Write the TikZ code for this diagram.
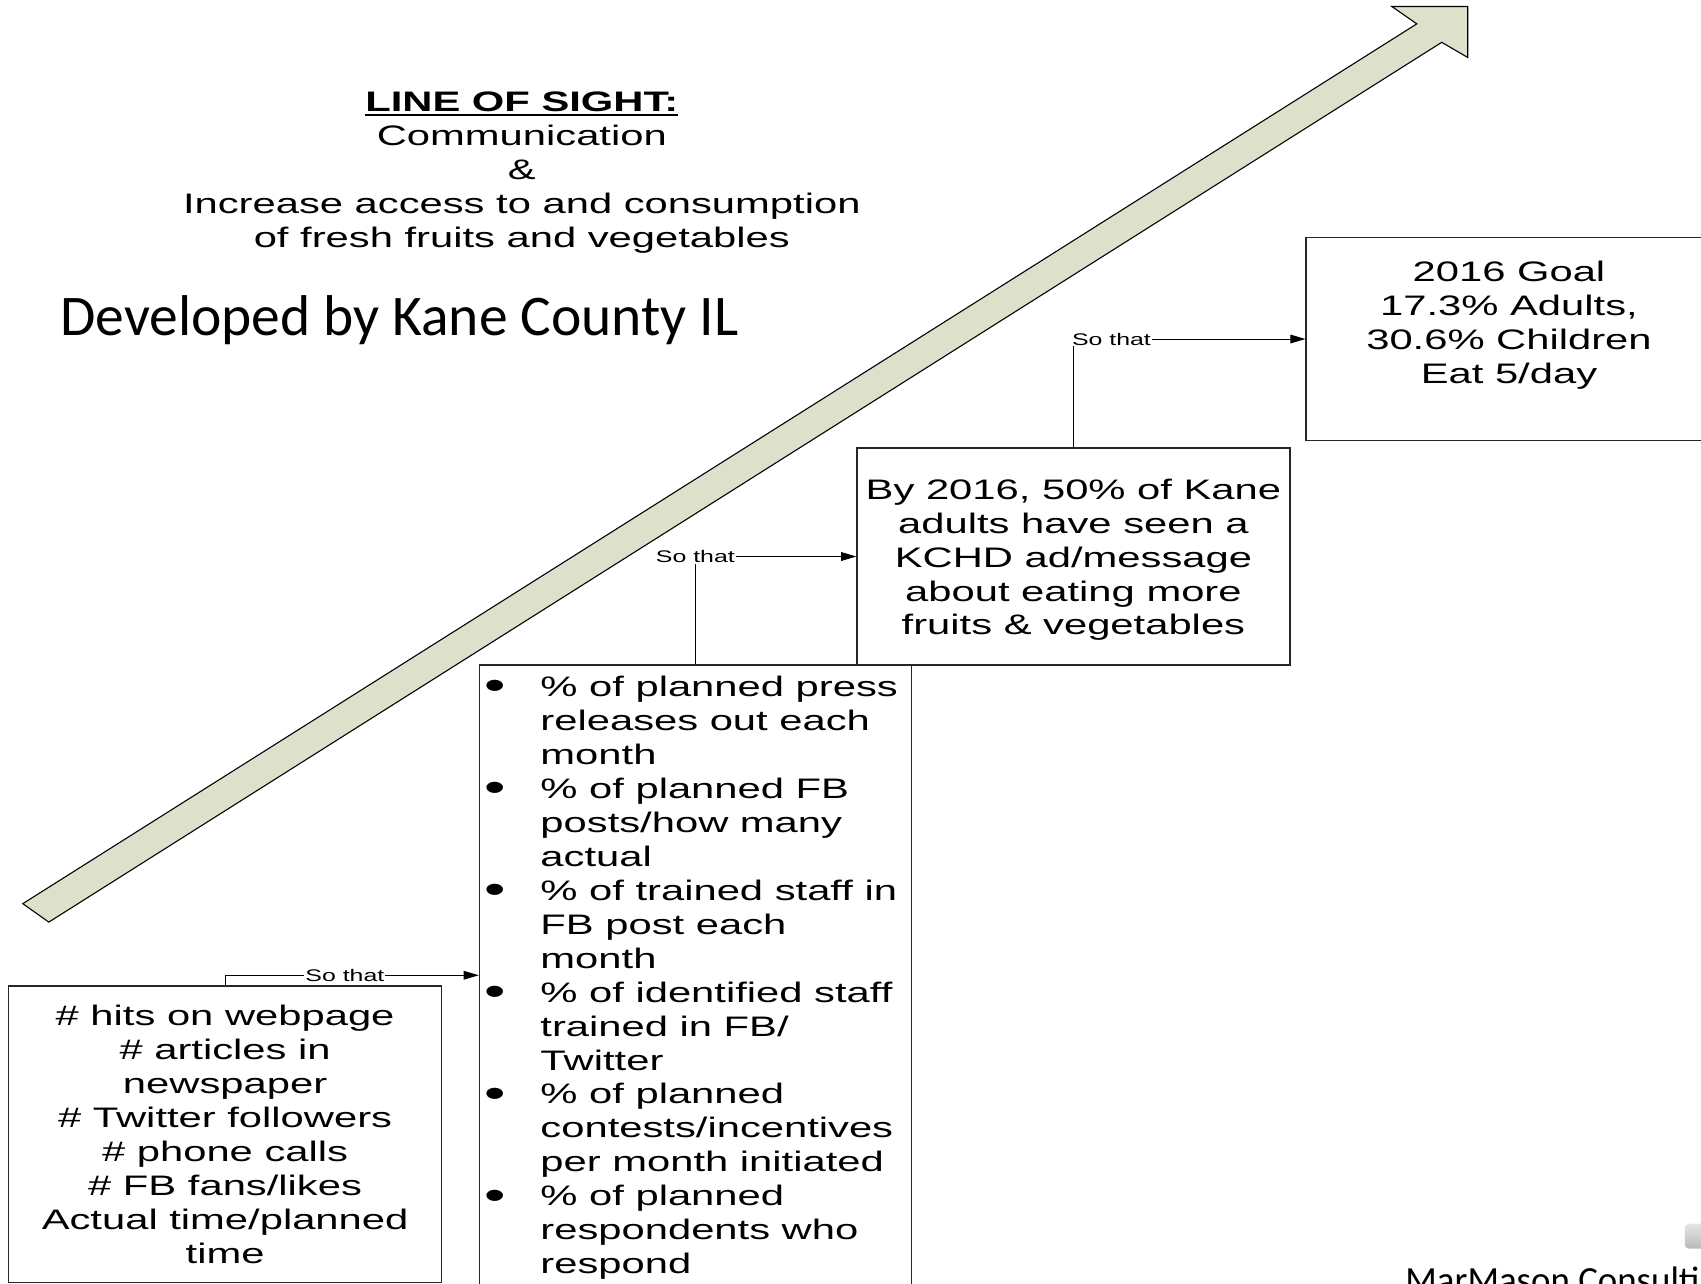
\documentclass[tikz,border=0pt]{standalone}
\usepackage{fontspec}
\usetikzlibrary{arrows.meta}

\newfontfamily\arialw[FakeStretch=1.48]{Liberation Sans}
\newfontfamily\calib{Carlito}
\definecolor{shaft}{RGB}{221,225,204}
\newcommand\ulbar[1]{\setbox0\hbox{#1}\rlap{\vrule height -2pt depth 4.5pt width \wd0}\box0}
\newcommand\itm{\makebox[52pt][l]{\raisebox{-3pt}{\fontsize{38}{30}\selectfont\textbullet}}}
\newcommand\cont{\hspace*{52pt}}

\begin{document}
\begin{tikzpicture}[x=1pt,y=-1pt,
  box/.style={draw=black!85,line width=1.2pt,inner sep=0pt},
  txt/.style={font=\arialw\fontsize{26}{31.3}\selectfont,align=center},
  sothat/.style={font=\arialw\fontsize{15.5}{18}\selectfont,fill=white,inner sep=1pt},
  link/.style={-{Triangle[length=14pt,width=8pt]},line width=0.9pt}]

\useasboundingbox (0,0) rectangle (1568,1183);
\clip (0,0) rectangle (1568,1183);

\draw [fill=shaft,line width=1pt] (21,833) -- (45,850) -- (1329,39) -- (1353,53) -- (1353,6) -- (1283,6) -- (1306,22) -- cycle;

\node [txt] (title) at (481,159) {\textbf{\ulbar{LINE OF SIGHT:}}\\Communication\\\&\\Increase access to and consumption\\of fresh fruits and vegetables};
\node [font=\calib\fontsize{53}{60}\selectfont,anchor=west] (dev) at (52,295) {Developed by Kane County IL};

\node [box,minimum width=374pt,minimum height=187pt] (goal) at (1391,312.5) {};
\node [txt] (goaltext) at (1391,300) {2016 Goal\\17.3\% Adults,\\30.6\% Children\\Eat 5/day};

\node [box,minimum width=399pt,minimum height=200pt] (kchd) at (989.5,513) {};
\node [txt] (kchdtext) at (989.5,516) {By 2016, 50\% of Kane\\adults have seen a\\KCHD ad/message\\about eating more\\fruits \& vegetables};

\node [box,minimum width=398pt,minimum height=572pt] (press) at (641,899) {};
\node [txt,align=left,anchor=north west,inner sep=0pt] (list) at (446,623) {\itm\% of planned press\\
\cont releases out each\\
\cont month\\
\itm\% of planned FB\\
\cont posts/how many\\
\cont actual\\
\itm\% of trained staff in\\
\cont FB post each\\
\cont month\\
\itm\% of identified staff\\
\cont trained in FB/\\
\cont Twitter\\
\itm\% of planned\\
\cont contests/incentives\\
\cont per month initiated\\
\itm\% of planned\\
\cont respondents who\\
\cont respond};

\node [box,txt,minimum width=399pt,minimum height=273pt] (counts) at (207.5,1045.5) {\# hits on webpage\\\# articles in\\newspaper\\\# Twitter followers\\\# phone calls\\\# FB fans/likes\\Actual time/planned\\time};

\draw [link] (counts.north) |- (press.west) node [sothat,pos=0.736] (so1) {So that};

\node [sothat] (so2) at (641,513) {So that};
\draw [line width=0.9pt] (press.north) -- (so2);
\draw [link] (so2) -- (kchd.west);

\node [sothat,anchor=west] (so3) at (987,312.5) {So that};
\draw [line width=0.9pt] (kchd.north) -- (kchd.north |- so3.south);
\draw [link] (so3) -- (goal.west);

\shade [top color=gray!20,bottom color=gray!55,rounded corners=4pt] (1553,1128) rectangle (1590,1151);
\node [font=\calib\fontsize{34}{40}\selectfont,anchor=base west] (credit) at (1292,1191) {MarMason Consulting};

\end{tikzpicture}
\end{document}
